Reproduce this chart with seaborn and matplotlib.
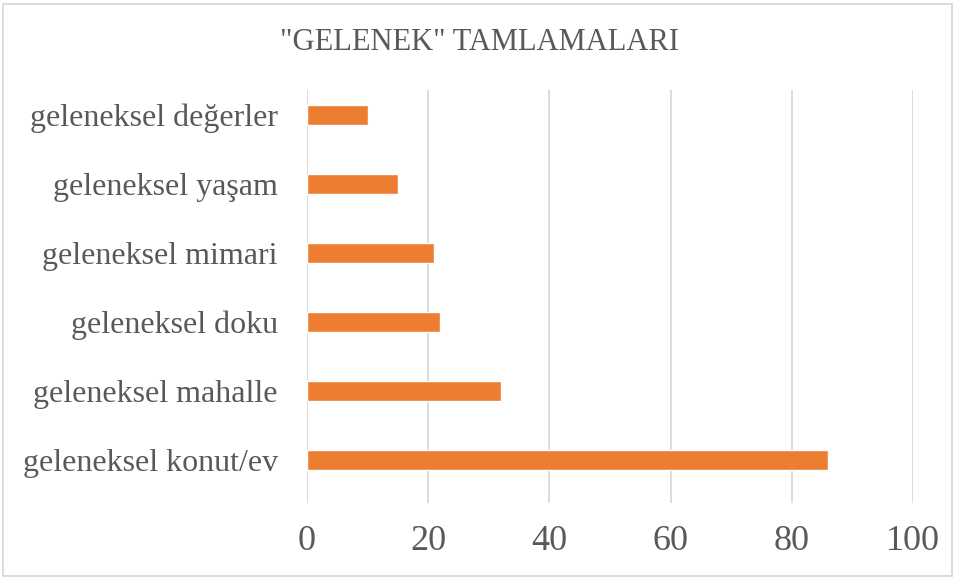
import matplotlib
matplotlib.use("Agg")
import matplotlib.pyplot as plt
import seaborn as sns
import pandas as pd
from matplotlib.patches import Rectangle

categories = ["geleneksel değerler", "geleneksel yaşam", "geleneksel mimari",
              "geleneksel doku", "geleneksel mahalle", "geleneksel konut/ev"]
values = [10, 15, 21, 22, 32, 86]
xticks = [0, 20, 40, 60, 80, 100]

sns.set_theme(style="white")
plt.rcParams['font.family'] = ['Liberation Serif', 'DejaVu Serif']

df = pd.DataFrame({"cat": categories, "val": values})

fig = plt.figure(figsize=(9.58, 5.79), dpi=100)
W, H = 958, 579
ax = fig.add_axes([307 / W, 1 - 503 / H, (913 - 307) / W, (503 - 90) / H])

sns.barplot(data=df, x="val", y="cat", color="#ED7D31", saturation=1,
            width=0.29, ax=ax, orient="h")

ax.set_xlim(0, 100)
ax.set_ylim(5.623, -0.362)
ax.set_xticks(xticks)
ax.set_xticklabels([str(t) for t in xticks])
ax.grid(axis="x", color="#D9D9D9", linewidth=1.3)
ax.set_axisbelow(True)
for s in ax.spines.values():
    s.set_visible(False)
ax.tick_params(axis="x", length=0, pad=16, labelsize=26, labelcolor="#595959")
ax.tick_params(axis="y", length=0, pad=21, labelsize=23, labelcolor="#595959")
ax.set_xlabel("")
ax.set_ylabel("")

fig.text(0.5, 1 - 42 / H, '"GELENEK" TAMLAMALARI', ha="center", va="center",
         fontsize=22, color="#595959")

fig.patches.append(Rectangle((3 / W, 3 / H), (952 - 3) / W, (575 - 3) / H,
                             transform=fig.transFigure, fill=False,
                             edgecolor="#D9D9D9", linewidth=1.3))

fig.savefig("out.png", dpi=100, facecolor="white")
